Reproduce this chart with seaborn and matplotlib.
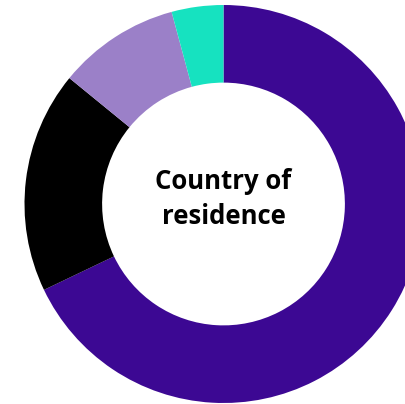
import matplotlib
matplotlib.use("Agg")
import matplotlib.pyplot as plt
import seaborn as sns

sns.set_theme(style="white")
plt.rcParams['font.family'] = ['Open Sans', 'DejaVu Sans']

categories = ["Group A", "Group B", "Group C", "Group D"]
values = [67.9, 18.0, 9.9, 4.2]
colors = ["#3c0893", "#000000", "#9b80c8", "#16e2c0"]
center_lines = ["Country of", "residence"]

fig = plt.figure(figsize=(4.05, 4.04), dpi=100)
ax = fig.add_axes([0, 0, 1, 1])
ax.pie(values, colors=colors, startangle=90, counterclock=False, radius=1.0,
       wedgeprops=dict(width=0.39, edgecolor="none", linewidth=0))
ax.set_xlim(-223.5 / 199, (405 - 223.5) / 199)
ax.set_ylim(-(404 - 204) / 199, 204 / 199)
ax.set_aspect("auto")
ax.axis("off")

ax.text(0.0, 0.074, center_lines[0], ha="center", va="baseline",
        fontsize=18.5, fontweight="bold", color="black")
ax.text(0.0, -0.100, center_lines[1], ha="center", va="baseline",
        fontsize=18.5, fontweight="bold", color="black")

fig.savefig("out.png", dpi=100, facecolor="white")
